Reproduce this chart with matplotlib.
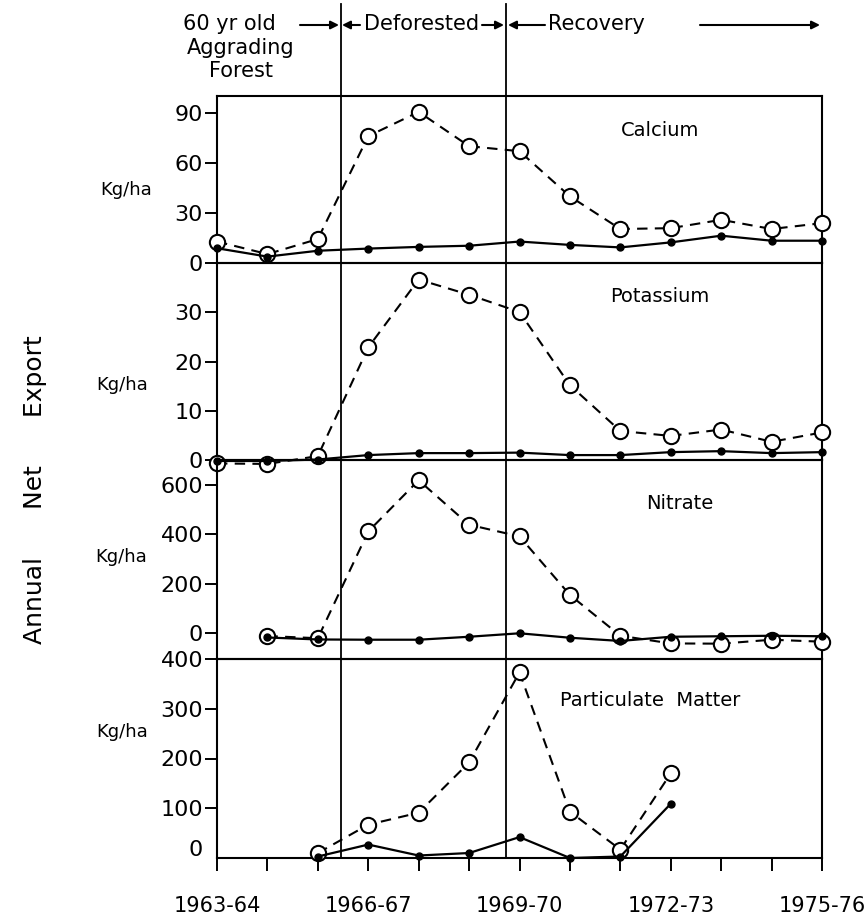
import numpy as np
import matplotlib
matplotlib.use('Agg')
import matplotlib.pyplot as plt
from matplotlib.patches import FancyArrowPatch

# water years 1963-64 .. 1975-76
years = ['1963-64', '1964-65', '1965-66', '1966-67', '1967-68', '1968-69', '1969-70',
         '1970-71', '1971-72', '1972-73', '1973-74', '1974-75', '1975-76']
shown_years = ['1963-64', '1966-67', '1969-70', '1972-73', '1975-76']

# open circles = deforested watershed, dots = reference watershed
ca_open = [13, 5.5, 14.5, 76, 90.5, 70, 67, 40, 20.5, 21, 26, 20.5, 24]
ca_dot = [9, 4, 7.5, 8.8, 9.8, 10.5, 13, 11, 9.5, 12.5, 16.5, 13.5, 13.5]

k_open = [-0.7, -0.8, 0.8, 22.9, 36.7, 33.6, 30.1, 15.2, 5.9, 4.9, 6.2, 3.7, 5.6]
k_dot = [-0.2, -0.2, 0.1, 1.0, 1.4, 1.4, 1.5, 1.0, 1.0, 1.6, 1.8, 1.4, 1.6]

no3_open = [np.nan, -12, -21, 411, 618, 438, 391, 154, -11, -42, -43, -27, -35]
no3_dot = [np.nan, -18, -26, -27, -27, -15, -1, -19, -32, -15, -13, -11, -13]

pm_open = [np.nan, np.nan, 10, 67, 91, 192, 373, 93, 17, 170, np.nan, np.nan, np.nan]
pm_dot = [np.nan, np.nan, 3, 27, 5, 10, 42, 0, 3, 109, np.nan, np.nan, np.nan]

panels = [
    ('Calcium', ca_open, ca_dot, (0, 100), [0, 30, 60, 90]),
    ('Potassium', k_open, k_dot, (0, 40), [0, 10, 20, 30]),
    ('Nitrate', no3_open, no3_dot, (-105, 700), [0, 200, 400, 600]),
    ('Particulate  Matter', pm_open, pm_dot, (0, 400), [100, 200, 300, 400]),
]

W, H = 866, 917
def fx(px):
    return px / W
def fy(py):
    return 1 - py / H

plt.rcParams['font.family'] = 'DejaVu Sans'
fig = plt.figure(figsize=(8.66, 9.17), dpi=100)

# panel edges in pixels (top, bottom)
edges = [(96, 263.3), (263.3, 460), (460, 659), (659, 858)]
title_pos = [(660, 130), (660, 297), (680, 503), (650, 700)]
kgha_pos = [(152, 190), (148, 385), (147, 557), (148, 732)]
cut_start, cut_end = 2.46, 5.74

x = np.arange(len(years))
axes = []
for i, (name, op, dt, ylim, yt) in enumerate(panels):
    top, bot = edges[i]
    ax = fig.add_axes([fx(217), fy(bot), fx(822) - fx(217), (bot - top) / H])
    ax.plot(x, op, ls='--', dashes=(5, 3.5), color='black', lw=1.5, marker='o',
            ms=11, mfc='white', mec='black', mew=1.5, clip_on=False, zorder=3)
    ax.plot(x, dt, ls='-', color='black', lw=1.6, marker='o', ms=5,
            clip_on=False, zorder=4)
    ax.set_xlim(0, 12)
    ax.set_ylim(*ylim)
    ax.set_yticks(yt)
    ax.tick_params(axis='y', direction='out', length=9, width=1.4, pad=1, labelsize=16)
    for s in ax.spines.values():
        s.set_linewidth(1.5)
    ax.patch.set_alpha(0)
    if i == 0:
        ax.axvline(cut_start, ymin=0, ymax=1.55, color='black', lw=1.3, clip_on=False)
        ax.axvline(cut_end, ymin=0, ymax=1.55, color='black', lw=1.3, clip_on=False)
    else:
        ax.axvline(cut_start, color='black', lw=1.3)
        ax.axvline(cut_end, color='black', lw=1.3)
    if i < 3:
        ax.tick_params(axis='x', bottom=False, labelbottom=False)
    else:
        ax.set_xticks(x)
        ax.set_xticklabels([y if y in shown_years else '' for y in years])
        ax.tick_params(axis='x', direction='out', length=9, width=1.4, pad=18, labelsize=15)
    tx, ty = title_pos[i]
    fig.text(fx(tx), fy(ty), name, ha='center', va='center', fontsize=14)
    kx, ky = kgha_pos[i]
    fig.text(fx(kx), fy(ky), 'Kg/ha', ha='right', va='center', fontsize=13)
    axes.append(ax)

# zero of the bottom panel sits on the axis without a tick
fig.text(fx(196), fy(850), '0', ha='center', va='center', fontsize=16)

fig.text(fx(35), fy(490), 'Annual      Net      Export', rotation=90, ha='center',
         va='center', fontsize=18)

# header
fig.text(fx(229), fy(24), '60 yr old', ha='center', va='center', fontsize=15)
fig.text(fx(241), fy(48), 'Aggrading', ha='center', va='center', fontsize=15)
fig.text(fx(241), fy(71), 'Forest', ha='center', va='center', fontsize=15)
fig.text(fx(422), fy(24), 'Deforested', ha='center', va='center', fontsize=15)
fig.text(fx(596), fy(24), 'Recovery', ha='center', va='center', fontsize=15)

arrows = [(300, 339), (360, 342), (482, 504), (545, 508), (700, 820)]
for a, b in arrows:
    fig.add_artist(FancyArrowPatch((fx(a), fy(25)), (fx(b), fy(25)),
                                   transform=fig.transFigure, arrowstyle='-|>',
                                   mutation_scale=12, lw=1.5, color='black',
                                   shrinkA=0, shrinkB=0))

fig.savefig('out.png', dpi=100)
